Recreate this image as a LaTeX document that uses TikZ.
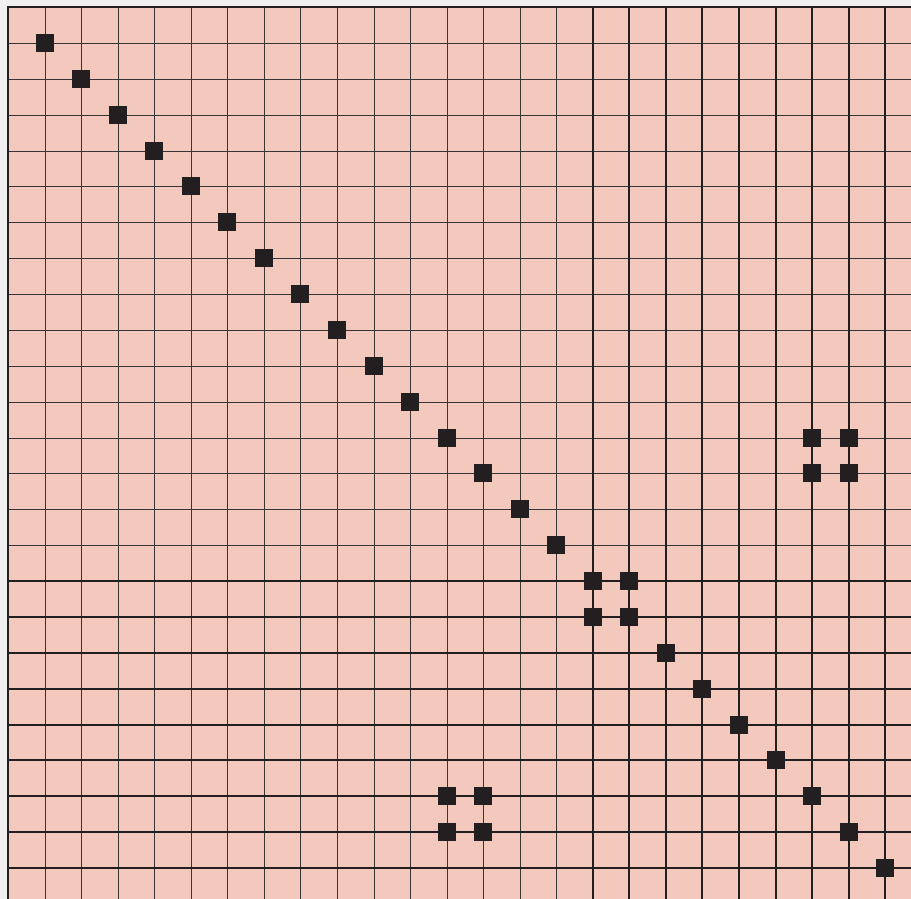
\documentclass[tikz,border=0pt]{standalone}
\usepackage{tikz}
\definecolor{bgpink}{HTML}{F3C9BE}
\definecolor{ink}{HTML}{231F20}
\definecolor{margin}{HTML}{F0F0F0}
\tikzset{
  thinline/.style={draw=ink!90, line width=1.6pt},
  thickline/.style={draw=ink, line width=2.6pt},
  dot/.style={fill=ink}
}
\begin{document}
\begin{tikzpicture}[x=1pt,y=-1pt]
\useasboundingbox (0,0) rectangle (911,899);
\fill[margin] (0,0) rectangle (911,899);
\fill[bgpink] (7,6) rectangle (911,899);
\foreach \i in {1,...,15} {
  \pgfmathsetmacro\xx{round(8+36.55*\i)+0.5}
  \draw[thinline] (\xx,6) -- (\xx,899);
}
\foreach \j in {1,...,15} {
  \pgfmathsetmacro\yy{round(7+35.875*\j)+0.5}
  \draw[thinline] (7,\yy) -- (911,\yy);
}
\foreach \i in {16,...,24} {
  \pgfmathsetmacro\xx{round(8+36.55*\i)}
  \draw[thickline] (\xx,6) -- (\xx,899);
}
\foreach \j in {16,...,24} {
  \pgfmathsetmacro\yy{round(7+35.875*\j)}
  \draw[thickline] (7,\yy) -- (911,\yy);
}
\draw[thickline] (8,899) -- (8,7) -- (911,7);
\foreach \i/\j in {1/1,2/2,3/3,4/4,5/5,6/6,7/7,8/8,9/9,10/10,11/11,12/12,13/13,14/14,15/15,
  16/16,17/16,16/17,17/17,18/18,19/19,20/20,21/21,22/22,23/23,24/24,
  22/12,23/12,22/13,23/13,12/22,13/22,12/23,13/23} {
  \pgfmathsetmacro\xx{round(8+36.55*\i)}
  \pgfmathsetmacro\yy{round(7+35.875*\j)}
  \fill[dot] (\xx-9,\yy-9) rectangle (\xx+9,\yy+9);
}
\end{tikzpicture}
\end{document}
